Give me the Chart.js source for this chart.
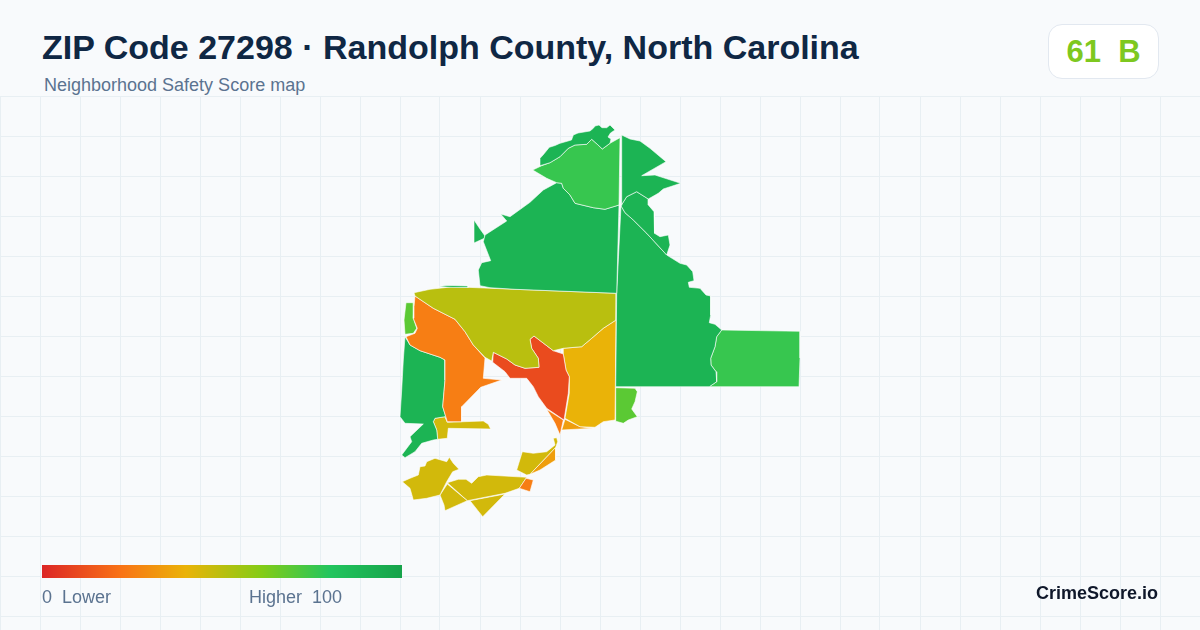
<!DOCTYPE html>
<html>
<head>
<meta charset="utf-8">
<title>ZIP Code 27298</title>
<script src="https://cdn.jsdelivr.net/npm/chart.js@4"></script>
<style>
  html, body { margin: 0; padding: 0; width: 1200px; height: 630px; overflow: hidden; background: #f8fafc; font-family: "Liberation Sans", Arial, sans-serif; }
  #title { position: absolute; left: 42px; top: 27px; font-size: 34px; line-height: 40px; font-weight: bold; color: #0f2744; white-space: nowrap; }
  #sub { position: absolute; left: 44px; top: 75px; font-size: 18px; line-height: 20px; color: #5b7390; white-space: nowrap; }
  #badge { position: absolute; left: 1048px; top: 24px; width: 109px; height: 53px; background: #fff; border: 1px solid #e2e8f0; border-radius: 14px; text-align: center; font-size: 31px; line-height: 53px; font-weight: bold; color: #7ec81f; white-space: pre; }
  #mapWrap { position: absolute; left: 0; top: 96px; width: 1200px; height: 534px; }
  #bar { position: absolute; left: 42px; top: 565px; width: 360px; height: 13px; }
  .lab { position: absolute; top: 587px; font-size: 18px; line-height: 20px; color: #5b7390; white-space: pre; }
  #brand { position: absolute; right: 42px; top: 583px; font-size: 18px; line-height: 20px; font-weight: bold; color: #0f172a; }
</style>
</head>
<body>
<div id="title">ZIP Code 27298 · Randolph County, North Carolina</div>
<div id="sub">Neighborhood Safety Score map</div>
<div id="badge">61  B</div>
<div id="mapWrap"><canvas id="map" width="1200" height="534"></canvas></div>
<canvas id="bar" width="360" height="13"></canvas>
<div class="lab" style="left:42px">0  Lower</div>
<div class="lab" style="left:249px">Higher  100</div>
<div id="brand">CrimeScore.io</div>
<script>
// score scale
const scaleScores = [0, 22, 40, 61, 80, 100];
const scaleColors = [[220, 38, 38], [249, 115, 22], [234, 179, 8], [132, 204, 22], [34, 197, 94], [22, 163, 74]];

// area outlines (x, y pairs)
const northStrip = [540,165.7, 540,158.3, 543,155, 549.3,147.3, 555,145.5, 560,143.3, 571.5,140, 573.3,135, 578,133, 590,131, 593.3,128.3, 595,126, 599,125, 602,127.7, 606.7,127.7, 610,125, 615,130, 610.5,133, 608,137, 611,139, 610,143.3, 602.3,149, 597.3,144.3, 591.7,139.3, 586.7,144.3, 575,145, 568.3,148.3, 560,156.7, 550,162.7];
const northMiddle = [532.7,170, 541.7,165.7, 550,162.7, 560,156.7, 568.3,148.3, 575,145, 586.7,144.3, 591.7,139.3, 597.3,144.3, 602.3,149, 610,143.3, 620,137.7, 619,205, 605,209.3, 593.3,207.7, 575,203.3, 570,195, 563.3,188.3, 561.7,183.3, 556.7,182.7, 546.7,178.3];
const northWest = [556.7,182.7, 561.7,183.3, 563.3,188.3, 570,195, 575,203.3, 593.3,207.7, 605,209.3, 619,205, 616.7,293.3, 515,289.3, 490,287.7, 480,285.7, 478.3,270, 481.7,262.7, 490.7,260.7, 483.3,241.7, 485,235, 506.7,221, 500.7,214, 510,216.7, 530,202.3, 543.3,190];
const westSliver = [474,220, 480,229, 485,236, 485,238, 474,243];
const centerSpecks = [438,286.5, 447,285.5, 468,286, 468,287.5, 453,287.5];
const northEast = [621.7,135, 630,139, 640,141, 650,148.3, 666,161.7, 641.7,175.7, 655,175, 680.7,183.3, 663.3,189, 658.3,193.3, 648.3,199, 636.7,191.7, 626.7,196.7, 621,205.7];
const eastPocket = [621,205.7, 626.7,196.7, 636.7,191.7, 648.3,199, 648.3,205, 654,211.7, 655,230, 654,233.3, 660,236.7, 668.3,235, 670,245, 666.7,255, 646.7,233.3, 633.3,220, 625,212.7];
const eastBig = [621,205.7, 625,212.7, 633.3,220, 646.7,233.3, 666.7,255, 680,263.3, 686.7,265, 692.7,271.7, 694,280.7, 688.3,282.3, 689.3,287.3, 700,288.3, 706,295, 710.7,296, 710.7,315, 709.3,322.7, 715,324.3, 721.7,330, 716.7,336.7, 715,346.7, 710.7,358.3, 711,365, 716,371.7, 716.7,381.7, 709.3,386.7, 615.7,386.7, 616.7,293.3];
const eastBlock = [721.7,330, 800,331.3, 800,358, 799,386.7, 709.3,386.7, 716.7,381.7, 716,371.7, 711,365, 710.7,358.3, 715,346.7, 716.7,336.7];
const centerBand = [414,292.7, 430,289.3, 453.3,286.7, 515,289.3, 616.7,293.3, 616,320, 603.3,328.3, 591.7,338.3, 581.7,346.7, 563.3,348.3, 553.3,350.7, 534,336, 530,339.3, 531.7,348.3, 538.3,358.3, 539,367.3, 525,368.3, 515,365, 506.7,359, 493.3,352.3, 491.7,361, 485,357.3, 473.3,345, 465,331.7, 455,319.3, 433.3,308.3, 415,296];
const westOrange = [415,296, 433.3,308.3, 455,319.3, 465,331.7, 473.3,345, 485,358, 483.3,378.3, 501.7,380, 480.7,387.3, 461.7,406.7, 461.7,421.7, 447.3,421.7, 442.7,406.7, 445,380, 445,360, 440,357.3, 420,350.7, 410,345, 406,336.7, 415,333.3, 417.3,328.3, 413.3,318.3, 414,306.7];
const westLime = [406,302.7, 414,302.7, 413.3,318.3, 416.7,328.3, 413.3,333.3, 405,334.3, 404,320];
const southWestGreen = [405,336.7, 410,345, 420,350.7, 440,357.3, 445,360, 445,380, 442.7,406.7, 447.3,421.7, 445,416.7, 435,418.3, 433.3,421.7, 436.7,430, 437.7,439.3, 433.3,440, 421.7,443.3, 415,451.7, 405,457.7, 401.7,455, 411.7,441.7, 410,436.7, 423.3,424, 405,423.3, 400,416.7, 401.7,390, 403.3,360];
const yellowArm = [435,418.3, 445,416.7, 447.3,422.3, 483.3,421, 488.3,424.3, 490.7,429, 448.3,428.3, 447.3,438.3, 437.7,439.3, 436.7,430, 433.3,421.7];
const redCore = [534,336, 553.3,350.7, 563.3,354, 566,370, 569.3,376.7, 568.3,393.3, 564,420, 546.7,408.3, 538.3,396.7, 533.3,386.7, 526.7,378.3, 510,378.3, 505,371.7, 492.7,362.3, 493.3,352.3, 506.7,359, 515,365, 525,368.3, 539,367.3, 538.3,358.3, 531.7,348.3, 530,339.3];
const goldBlock = [563.3,348.3, 581.7,346.7, 591.7,338.3, 603.3,328.3, 616,320, 615,420, 603.3,421.7, 595,427.3, 580,426.7, 565,418.3, 569.3,393.3, 569.3,376.7, 566,370, 563.3,354];
const orangeWedge = [546.7,409.3, 563.3,420, 560,435, 555,423.3];
const amberWedge = [565,419.3, 580,426.7, 593.3,428.3, 561.7,430];
const limeCorner = [615.7,387.7, 635,388.3, 637.3,391.7, 635,401.7, 631.7,409, 637.3,416.7, 628.3,420, 623.3,423.3, 615,421];
const southEastYellow = [522.3,451.7, 533.3,453.3, 546.7,451.7, 555,445, 553.3,438.3, 556.7,437.7, 557.7,441.7, 555.7,447.3, 530,474.3, 526.7,475, 516.7,470];
const amberStrip = [555.7,447.3, 555.7,460, 540,470, 530,474.3];
const orangeSpeck = [526,478.3, 533.3,480, 530,491.7, 519.3,488.3];
const southWestBlob = [402.3,481.7, 410,478.3, 418.3,475, 420,466.7, 425,466, 426.7,461.7, 435,458.3, 446.7,461.7, 449.3,457.3, 453.3,463.3, 459,469.3, 452.7,471.7, 446.7,481.7, 440,495, 426.7,498.3, 413.3,500, 410,488.3];
const southLeft = [440,495, 447.3,484, 467.3,500.7, 445,510.7, 444,505];
const southCenter = [447.3,482.7, 458.3,479.3, 466,479.3, 471.7,483.3, 478.3,476.7, 486.7,475, 526.7,477.3, 519.3,488.3, 505,493.3, 467.3,500.7];
const southTip = [470,500.7, 505,494, 482.7,516.7];

const areas = [northStrip, northMiddle, northWest, westSliver, centerSpecks, northEast, eastPocket, eastBig, eastBlock, centerBand, westOrange, westLime, southWestGreen, yellowArm, redCore, goldBlock, orangeWedge, amberWedge, limeCorner, southEastYellow, amberStrip, orangeSpeck, southWestBlob, southLeft, southCenter, southTip];
const areaScores = [90, 76, 90, 90, 90, 90, 90, 90, 76, 50, 25, 69, 90, 45, 10.5, 40, 25, 34, 69, 45, 34, 25, 45, 45, 45, 45];

const gridCols = [0, 40, 80, 120, 160, 200, 240, 280, 320, 360, 400, 440, 480, 520, 560, 600, 640, 680, 720, 760, 800, 840, 880, 920, 960, 1000, 1040, 1080, 1120, 1160, 1200];
const gridRows = [96, 136, 176, 216, 256, 296, 336, 376, 416, 456, 496, 536, 576, 616];

function scoreColor(score) {
    let i = 0;
    while (i < scaleScores.length - 2 && score > scaleScores[i + 1]) i++;
    const t = (score - scaleScores[i]) / (scaleScores[i + 1] - scaleScores[i]);
    const c = scaleColors[i].map((v, k) => Math.round(v + (scaleColors[i + 1][k] - v) * t));
    return `rgb(${c[0]}, ${c[1]}, ${c[2]})`;
}

function toPoints(outline) {
    const pts = [];
    for (let i = 0; i < outline.length; i += 2) {
        pts.push({ x: outline[i], y: outline[i + 1] });
    }
    pts.push({ x: outline[0], y: outline[1] });
    return pts;
}

new Chart(document.getElementById('map').getContext('2d'), {
    type: 'scatter',
    data: {
        datasets: areas.map((outline, i) => ({
            data: toPoints(outline),
            showLine: true,
            fill: 'shape',
            tension: 0,
            pointRadius: 0,
            borderWidth: 0.6,
            borderColor: '#ffffff',
            backgroundColor: scoreColor(areaScores[i])
        }))
    },
    options: {
        responsive: false,
        animation: false,
        devicePixelRatio: 1,
        layout: { padding: 0 },
        plugins: { legend: { display: false }, tooltip: { enabled: false } },
        scales: {
            x: {
                type: 'linear', min: 0, max: 1200,
                afterBuildTicks: s => { s.ticks = gridCols.map(v => ({ value: v })); },
                ticks: { display: false },
                grid: { color: '#e8eff3', drawTicks: false },
                border: { display: false }
            },
            y: {
                type: 'linear', min: 96, max: 630, reverse: true,
                afterBuildTicks: s => { s.ticks = gridRows.map(v => ({ value: v })); },
                ticks: { display: false },
                grid: { color: '#e8eff3', drawTicks: false },
                border: { display: false }
            }
        }
    }
});

// colour bar under the map
const barCtx = document.getElementById('bar').getContext('2d');
const barFill = barCtx.createLinearGradient(0, 0, 360, 0);
scaleScores.forEach((s, i) => barFill.addColorStop(s / 100, `rgb(${scaleColors[i].join(',')})`));
barCtx.fillStyle = barFill;
barCtx.fillRect(0, 0, 360, 13);
</script>
</body>
</html>
